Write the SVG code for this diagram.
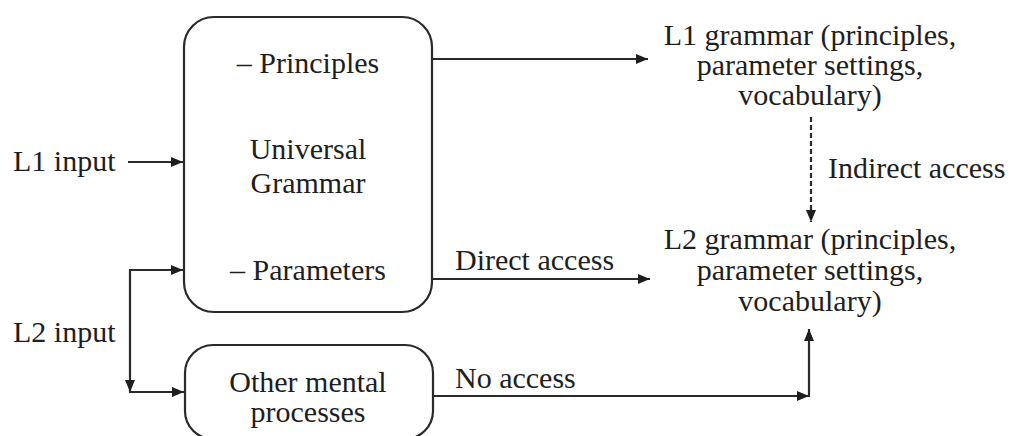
<svg xmlns="http://www.w3.org/2000/svg" width="1013" height="436" viewBox="0 0 1013 436">
  <style>
    .box { fill: #ffffff; stroke: #2a2a2a; stroke-width: 2.2; }
    .lbl { font-family: "Liberation Serif", "DejaVu Serif", serif; font-size: 30px; fill: #1e1e1e; }
    .mid { text-anchor: middle; }
    .wire { fill: none; stroke: #2a2a2a; stroke-width: 2.2; }
    .dash { stroke-dasharray: 5 3; }
  </style>
  <defs>
    <marker id="arrow" viewBox="0 0 12 10" refX="12" refY="5" markerWidth="13" markerHeight="10" markerUnits="userSpaceOnUse" orient="auto">
      <path d="M0,0 L12,5 L0,10 Z" fill="#1e1e1e"/>
    </marker>
  </defs>
  <rect width="1013" height="436" fill="#ffffff"/>

  <!-- Universal Grammar block -->
  <g id="universal-grammar">
    <rect class="box" x="184" y="17" width="248" height="295" rx="30" ry="30"/>
    <text class="lbl mid" x="308" y="73">– Principles</text>
    <text class="lbl mid" x="308" y="159">Universal</text>
    <text class="lbl mid" x="308" y="193">Grammar</text>
    <text class="lbl mid" x="308" y="280">– Parameters</text>
  </g>

  <!-- Other mental processes block -->
  <g id="other-processes">
    <rect class="box" x="185" y="345" width="248" height="94" rx="28" ry="28"/>
    <text class="lbl mid" x="308" y="392">Other mental</text>
    <text class="lbl mid" x="308" y="422">processes</text>
  </g>

  <!-- Inputs -->
  <g id="l1-input">
    <text class="lbl" x="13" y="171">L1 input</text>
  </g>
  <g id="l2-input">
    <text class="lbl" x="13" y="342">L2 input</text>
  </g>

  <!-- Resulting grammars -->
  <g id="l1-grammar">
    <text class="lbl mid" x="810" y="45">L1 grammar (principles,</text>
    <text class="lbl mid" x="810" y="75">parameter settings,</text>
    <text class="lbl mid" x="810" y="105">vocabulary)</text>
  </g>
  <g id="l2-grammar">
    <text class="lbl mid" x="810" y="249">L2 grammar (principles,</text>
    <text class="lbl mid" x="810" y="280">parameter settings,</text>
    <text class="lbl mid" x="810" y="311">vocabulary)</text>
  </g>

  <!-- Connectors -->
  <g id="connectors">
    <path class="wire" d="M128,162 H183" marker-end="url(#arrow)"/>
    <path class="wire" d="M130,270 H183" marker-end="url(#arrow)"/>
    <path class="wire" d="M130,269 V392" marker-end="url(#arrow)"/>
    <path class="wire" d="M129,392 H184" marker-end="url(#arrow)"/>
    <path class="wire" d="M432,59 H648" marker-end="url(#arrow)"/>
    <path class="wire dash" d="M811,117 V222" marker-end="url(#arrow)"/>
    <path class="wire" d="M432,279 H650" marker-end="url(#arrow)"/>
    <path class="wire" d="M433,396 H809" marker-end="url(#arrow)"/>
    <path class="wire" d="M809,397 V329" marker-end="url(#arrow)"/>
    <text class="lbl" x="828" y="178">Indirect access</text>
    <text class="lbl" x="455" y="270">Direct access</text>
    <text class="lbl" x="455" y="388">No access</text>
  </g>
</svg>
